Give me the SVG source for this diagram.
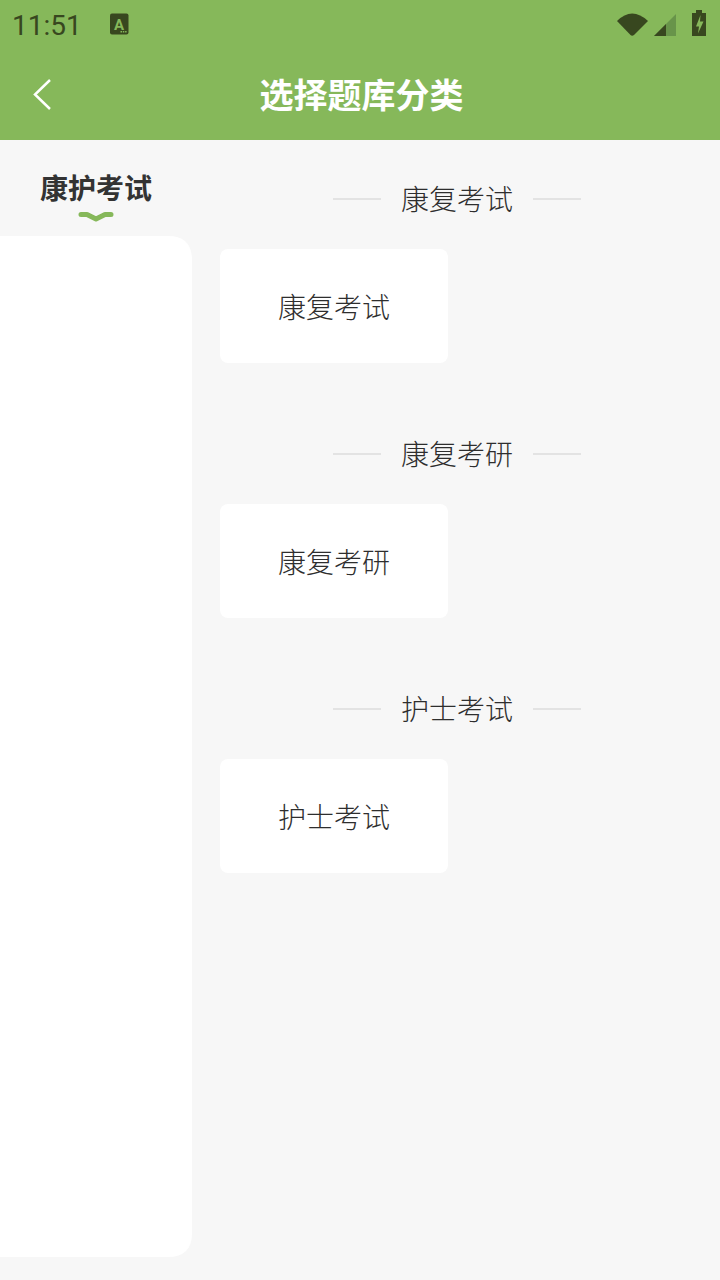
<svg xmlns="http://www.w3.org/2000/svg" width="720" height="1280" viewBox="0 0 720 1280">
<style>
text{font-family:"Noto Sans CJK SC","Noto Sans",sans-serif}
.t{font-size:28px;font-weight:300;fill:#2e2e2e;text-anchor:middle}
.l{fill:#e3e3e3}
.c{fill:#fff}
.s{fill:#38471f}
</style>
<rect width="720" height="1280" fill="#f7f7f7"/>
<g id="header">
<rect width="720" height="140" fill="#86b85a"/>
<text x="12" y="35" style="font-family:Roboto,sans-serif;font-size:28px;fill:#38471f">11:51</text>
<rect x="110" y="13.500" width="18.500" height="21" rx="2" class="s"/>
<text x="119" y="30" style="font-family:Roboto,sans-serif;font-size:15px;font-weight:700;fill:#86b85a;text-anchor:middle">A</text>
<path d="M120.500 31h1.500v1.500h-1.500zM122.800 31h1.500v1.500h-1.500zM125.100 31h1.500v1.500h-1.500z" fill="#86b85a"/>
<path class="s" d="M617 21Q632 6 648 21L634 35Q632 36.500 630.500 35Z"/>
<path d="M654 36L676 14V36Z" fill="#68944a"/>
<path class="s" d="M654 36L666 24V36Z"/>
<path class="s" d="M692 36V13H696V10H702V13H706V36Z"/>
<path d="M700.500 15L696 26.500H699L698 33.500L703.500 21.500H700Z" fill="#86b85a"/>
<path d="M50 80L35 94.500L50 109" fill="none" stroke="#fff" stroke-width="2.500"/>
<text x="361.500" y="107.500" style="font-size:34px;font-weight:700;fill:#fff;text-anchor:middle">选择题库分类</text>
</g>
<g id="sidebar">
<path class="c" d="M0 236H168Q192 236 192 260V1233Q192 1257 168 1257H0Z"/>
<text x="96" y="198.500" style="font-size:28px;font-weight:700;fill:#333;text-anchor:middle">康护考试</text>
<path d="M81 214.500H87L96 219L105 214.500H111" fill="none" stroke="#86b85a" stroke-width="5" stroke-linecap="round" stroke-linejoin="round"/>
</g>
<g id="section-1">
<rect class="l" x="333" y="198" width="48" height="2"/><rect class="l" x="533" y="198" width="48" height="2"/>
<text class="t" x="457" y="210">康复考试</text>
<rect class="c" x="220" y="249" width="228" height="114" rx="8"/>
<text class="t" x="334" y="318">康复考试</text>
</g>
<g id="section-2">
<rect class="l" x="333" y="453" width="48" height="2"/><rect class="l" x="533" y="453" width="48" height="2"/>
<text class="t" x="457" y="465">康复考研</text>
<rect class="c" x="220" y="504" width="228" height="114" rx="8"/>
<text class="t" x="334" y="573">康复考研</text>
</g>
<g id="section-3">
<rect class="l" x="333" y="708" width="48" height="2"/><rect class="l" x="533" y="708" width="48" height="2"/>
<text class="t" x="457" y="720">护士考试</text>
<rect class="c" x="220" y="759" width="228" height="114" rx="8"/>
<text class="t" x="334" y="828">护士考试</text>
</g>
<g id="connectors"/>
</svg>
